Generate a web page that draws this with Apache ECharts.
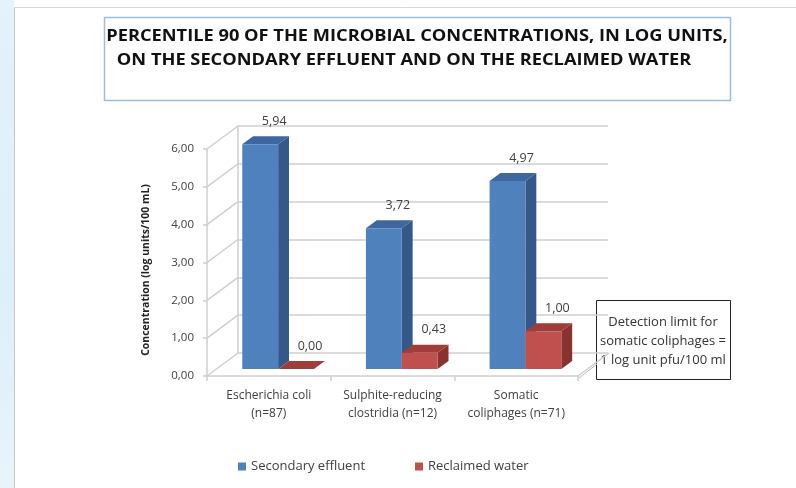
<!DOCTYPE html>
<html><head><meta charset="utf-8">
<script src="https://cdn.jsdelivr.net/npm/echarts@6/dist/echarts.min.js"></script>
<style>html,body{margin:0;padding:0;background:#fff}#c{width:796px;height:488px}</style>
</head><body><div id="c"></div>
<script>
const categories = ['Escherichia coli\n(n=87)', 'Sulphite-reducing\nclostridia (n=12)', 'Somatic\ncoliphages (n=71)'];
const secondaryEffluent = [5.94, 3.72, 4.97];
const reclaimedWater = [0.00, 0.43, 1.00];
const yTicks = [0, 1, 2, 3, 4, 5, 6];
const titleLines = ['PERCENTILE 90 OF THE MICROBIAL CONCENTRATIONS, IN LOG UNITS,', 'ON THE SECONDARY EFFLUENT AND ON THE RECLAIMED WATER'];
const noteText = 'Detection limit for\nsomatic coliphages =\n1 log unit pfu/100 ml';
const yName = 'Concentration (log units/100 mL)';

const FONT = 'Open Sans';
const GRID = '#CFCFCF';
const DEPTH = [31, -23];

const palettes = [
  {front: '#4F81BD', side: '#34588A', top: '#3D679E'},
  {front: '#C0504D', side: '#8A3230', top: '#A03D3A'}
];

function fmt(v) { return v.toFixed(2).replace('.', ','); }

function barRender(sIdx) {
  return function (params, api) {
    const cat = api.value(0), v = api.value(1);
    const t = api.coord([cat, v]), b = api.coord([cat, 0]);
    const band = api.size([1, 0])[0];
    const bw = band * 0.29;
    const fx = DEPTH[0] * 0.3, fy = DEPTH[1] * 0.3;
    const sx = DEPTH[0] * 0.35, sy = DEPTH[1] * 0.35;
    const xL = t[0] + fx - bw + sIdx * bw, xR = xL + bw;
    const yT = t[1] + fy, yB = b[1] + fy;
    const p = palettes[sIdx];
    return {
      type: 'group',
      children: [
        {type: 'polygon', shape: {points: [[xR, yT], [xR + sx, yT + sy], [xR + sx, yB + sy], [xR, yB]]}, style: {fill: p.side}},
        {type: 'polygon', shape: {points: [[xL, yT], [xL + sx, yT + sy], [xR + sx, yT + sy], [xR, yT]]}, style: {fill: p.top}},
        {type: 'rect', shape: {x: xL, y: yT, width: bw, height: Math.max(0, yB - yT)}, style: {fill: p.front}},
        {type: 'text', style: {x: xL + bw / 2 + 14, y: yT - 23, text: fmt(v), fill: '#404040', font: '12.5px "' + FONT + '"', align: 'center', verticalAlign: 'middle'}}
      ]
    };
  };
}

function diagRender(params, api) {
  const v = api.value(1);
  const band = api.size([1, 0])[0];
  const p = api.coord([0, v]);
  const x0 = p[0] - band / 2;
  const children = [{type: 'line', shape: {x1: x0, y1: p[1], x2: x0 + DEPTH[0], y2: p[1] + DEPTH[1]}, style: {stroke: GRID, lineWidth: 1.5}}];
  if (v === 0) {
    const r = api.coord([categories.length - 1, 0]);
    const x1 = r[0] + band / 2;
    children.push({type: 'line', shape: {x1: x1, y1: r[1], x2: x1 + DEPTH[0], y2: r[1] + DEPTH[1]}, style: {stroke: GRID, lineWidth: 1.5}});
  }
  return {type: 'group', children: children};
}

const chart = echarts.init(document.getElementById('c'), null, {renderer: 'canvas'});
chart.setOption({
  animation: false,
  backgroundColor: '#fff',
  textStyle: {fontFamily: FONT},
  grid: [
    {left: 207, top: 149, width: 371, height: 227},
    {left: 238, top: 126, width: 370, height: 227}
  ],
  xAxis: [
    {type: 'category', gridIndex: 0, data: categories,
      axisLine: {show: true, lineStyle: {color: GRID, width: 1.5}},
      axisTick: {show: true, length: 5, lineStyle: {color: GRID, width: 1.5}},
      axisLabel: {color: '#404040', fontSize: 12, lineHeight: 18, margin: 11, interval: 0, hideOverlap: false, fontFamily: FONT}},
    {type: 'category', gridIndex: 1, data: categories, show: false}
  ],
  yAxis: [
    {type: 'value', gridIndex: 0, min: 0, max: 6, interval: 1,
      axisLine: {show: true, lineStyle: {color: GRID, width: 1.5}},
      axisTick: {show: true, length: 4, lineStyle: {color: GRID, width: 1.5}},
      splitLine: {show: false},
      axisLabel: {color: '#404040', fontSize: 11.5, margin: 13, fontFamily: FONT, formatter: fmt}},
    {type: 'value', gridIndex: 1, min: 0, max: 6, interval: 1,
      axisLine: {show: true, lineStyle: {color: GRID, width: 1.5}},
      axisTick: {show: false}, axisLabel: {show: false},
      splitLine: {show: true, lineStyle: {color: GRID, width: 1.5}}}
  ],
  legend: {
    data: ['Secondary effluent', 'Reclaimed water'],
    left: 233, top: 455, icon: 'rect', itemWidth: 8, itemHeight: 8, itemGap: 50,
    textStyle: {fontSize: 13, color: '#404040', fontFamily: FONT}
  },
  series: [
    {type: 'custom', name: 'grid-diag', xAxisIndex: 0, yAxisIndex: 0, clip: false, z: 1, silent: true,
      data: yTicks.map(v => [0, v]), renderItem: diagRender},
    {type: 'custom', name: 'Secondary effluent', xAxisIndex: 0, yAxisIndex: 0, clip: false, z: 3,
      itemStyle: {color: palettes[0].front},
      data: secondaryEffluent.map((v, i) => [i, v]), renderItem: barRender(0)},
    {type: 'custom', name: 'Reclaimed water', xAxisIndex: 0, yAxisIndex: 0, clip: false, z: 4,
      itemStyle: {color: palettes[1].front},
      data: reclaimedWater.map((v, i) => [i, v]), renderItem: barRender(1)}
  ],
  graphic: [
    {type: 'rect', left: 0, top: 0, shape: {width: 14, height: 488}, z: -10,
      style: {fill: new echarts.graphic.LinearGradient(0, 0, 0, 1, [{offset: 0, color: '#E4F2FA'}, {offset: 0.6, color: '#DDEFF8'}, {offset: 1, color: '#E8F4FA'}])}},
    {type: 'line', shape: {x1: 14.5, y1: 7.5, x2: 14.5, y2: 488}, style: {stroke: '#C8C8C8', lineWidth: 1}, z: -9},
    {type: 'line', shape: {x1: 14.5, y1: 7.5, x2: 796, y2: 7.5}, style: {stroke: '#DADADA', lineWidth: 1}, z: -9},
    {type: 'rect', shape: {x: 104.5, y: 17.5, width: 626, height: 83}, style: {fill: '#fff', stroke: '#9DBCE3', lineWidth: 1.5}, z: -5},
    {type: 'text', x: 417, y: 36, scaleX: 1.14, style: {x: 0, y: 0, text: titleLines[0], font: 'bold 16px "' + FONT + '"', fill: '#111', align: 'center', verticalAlign: 'middle'}},
    {type: 'text', x: 404, y: 60, scaleX: 1.14, style: {x: 0, y: 0, text: titleLines[1], font: 'bold 16px "' + FONT + '"', fill: '#111', align: 'center', verticalAlign: 'middle'}},
    {type: 'text', rotation: Math.PI / 2, x: 146, y: 270, style: {x: 0, y: 0, text: yName, font: 'bold 10.5px "' + FONT + '"', fill: '#222', align: 'center', verticalAlign: 'middle'}},
    {type: 'rect', shape: {x: 596.5, y: 300.5, width: 134, height: 79}, style: {fill: '#fff', stroke: '#222', lineWidth: 1}},
    {type: 'text', style: {x: 663, y: 341, text: noteText, font: '13px "' + FONT + '"', lineHeight: 19, fill: '#333', align: 'center', verticalAlign: 'middle'}},
    {type: 'line', shape: {x1: 579, y1: 378, x2: 597, y2: 364}, style: {stroke: '#BBBBBB', lineWidth: 1}}
  ]
});
</script></body></html>
